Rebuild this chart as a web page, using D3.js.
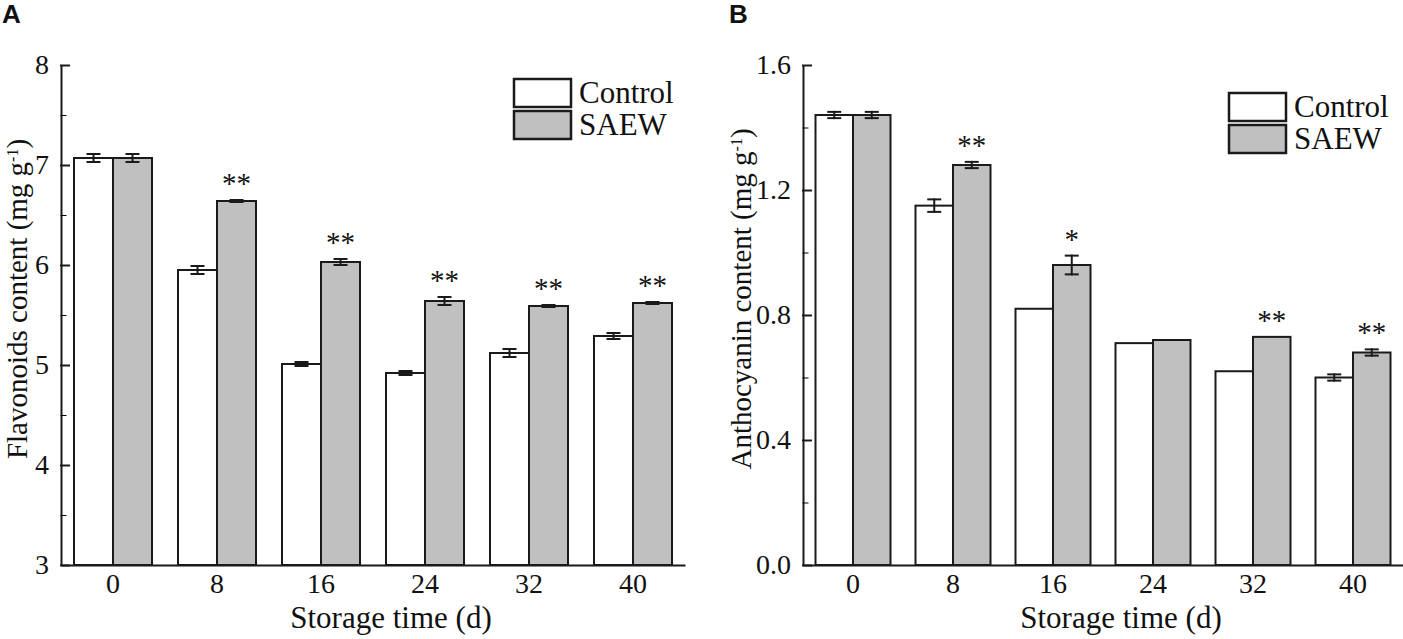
<!DOCTYPE html>
<html>
<head>
<meta charset="utf-8">
<script src="https://cdn.jsdelivr.net/npm/d3@7"></script>
<style>
  body { margin: 0; background: #fff; }
  text { font-family: "Liberation Serif", "Times New Roman", serif; fill: #111; }
</style>
</head>
<body>
<div id="chart"></div>
<script>
// Storage days (x categories)
var days = ["0", "8", "16", "24", "32", "40"];

// Panel A - flavonoids (mg g-1)
var flavControl = [7.07, 5.95, 5.01, 4.92, 5.12, 5.29];
var flavControlErr = [0.04, 0.04, 0.02, 0.02, 0.04, 0.03];
var flavSaew = [7.07, 6.64, 6.03, 5.64, 5.59, 5.62];
var flavSaewErr = [0.04, 0.01, 0.03, 0.04, 0.01, 0.01];
var flavSig = ["", "**", "**", "**", "**", "**"];
var flavTicks = [3, 4, 5, 6, 7, 8];
var flavMinor = [3.5, 4.5, 5.5, 6.5, 7.5];

// Panel B - anthocyanin (mg g-1)
var anthoControl = [1.44, 1.15, 0.82, 0.71, 0.62, 0.60];
var anthoControlErr = [0.01, 0.02, 0, 0, 0, 0.01];
var anthoSaew = [1.44, 1.28, 0.96, 0.72, 0.73, 0.68];
var anthoSaewErr = [0.01, 0.01, 0.03, 0, 0, 0.01];
var anthoSig = ["", "**", "*", "", "**", "**"];
var anthoTicks = [0, 0.4, 0.8, 1.2, 1.6];
var anthoMinor = [0.2, 0.6, 1.0, 1.4];

var seriesNames = ["Control", "SAEW"];
var seriesFill = ["#ffffff", "#c0c0c0"];
var stroke = "#1a1a1a";

var svgWidth = 1403;
var svgHeight = 639;

var svg = d3.select("#chart")
  .append("svg")
  .attr("width", svgWidth)
  .attr("height", svgHeight);

function drawPanel(p) {
  var g = svg.append("g");

  // x: one band per day, split in two for the series
  var xScale = d3.scaleBand()
    .domain(days)
    .range([p.left, p.right])
    .paddingInner(0.25)
    .paddingOuter(0.125);

  var xSub = d3.scaleBand()
    .domain(seriesNames)
    .range([0, xScale.bandwidth()]);

  var yScale = d3.scaleLinear()
    .domain(p.domain)
    .range([565, 65]);

  // bars
  var rows = [];
  days.forEach(function(d, i) {
    rows.push({ day: d, s: 0, v: p.control[i], e: p.controlErr[i] });
    rows.push({ day: d, s: 1, v: p.saew[i], e: p.saewErr[i], sig: p.sig[i] });
  });

  g.selectAll("rect.bar")
    .data(rows)
    .enter()
    .append("rect")
    .attr("class", "bar")
    .attr("x", d => xScale(d.day) + xSub(seriesNames[d.s]))
    .attr("y", d => yScale(d.v))
    .attr("width", xSub.bandwidth())
    .attr("height", d => yScale(p.domain[0]) - yScale(d.v))
    .attr("fill", d => seriesFill[d.s])
    .attr("stroke", stroke)
    .attr("stroke-width", 2);

  // error bars (only where there is an error)
  var errRows = rows.filter(d => d.e > 0);
  var cx = d => xScale(d.day) + xSub(seriesNames[d.s]) + xSub.bandwidth() / 2;

  g.selectAll("line.err")
    .data(errRows)
    .enter()
    .append("line")
    .attr("x1", cx).attr("x2", cx)
    .attr("y1", d => yScale(d.v - d.e))
    .attr("y2", d => yScale(d.v + d.e))
    .attr("stroke", stroke)
    .attr("stroke-width", 2);

  [-1, 1].forEach(function(sgn) {
    g.selectAll("line.cap" + sgn)
      .data(errRows)
      .enter()
      .append("line")
      .attr("x1", d => cx(d) - 6).attr("x2", d => cx(d) + 6)
      .attr("y1", d => yScale(d.v + sgn * d.e))
      .attr("y2", d => yScale(d.v + sgn * d.e))
      .attr("stroke", stroke)
      .attr("stroke-width", 2);
  });

  // significance stars above SAEW bars
  g.selectAll("text.sig")
    .data(rows.filter(d => d.sig))
    .enter()
    .append("text")
    .attr("x", cx)
    .attr("y", d => yScale(d.v + d.e) - 7)
    .attr("text-anchor", "middle")
    .style("font-size", "29px")
    .text(d => d.sig);

  // axes, ticks pointing inward
  var leftAxis = d3.axisLeft(yScale)
    .tickValues(p.ticks)
    .tickFormat(p.format)
    .tickSizeInner(-8)
    .tickSizeOuter(0)
    .tickPadding(12);

  var minorAxis = d3.axisLeft(yScale)
    .tickValues(p.minor)
    .tickFormat("")
    .tickSizeInner(-5)
    .tickSizeOuter(0);

  var bottomAxis = d3.axisBottom(xScale)
    .tickSize(0)
    .tickPadding(8);

  var yG = g.append("g")
    .attr("transform", `translate(${p.left}, 0)`)
    .call(leftAxis);
  g.append("g")
    .attr("transform", `translate(${p.left}, 0)`)
    .call(minorAxis)
    .select(".domain").remove();
  var xG = g.append("g")
    .attr("transform", `translate(0, 565)`)
    .call(bottomAxis);

  [yG, xG].forEach(function(a) {
    a.selectAll("path, line").attr("stroke", stroke).attr("stroke-width", 2);
    a.selectAll("text")
      .attr("fill", "#111")
      .style("font-family", "Liberation Serif")
      .style("font-size", "28px");
  });
  g.selectAll("line").attr("stroke-linecap", "square");

  // axis titles
  var yt = g.append("text")
    .attr("transform", `translate(${p.yTitleX}, 299) rotate(-90)`)
    .attr("text-anchor", "middle")
    .style("font-size", "29px");
  yt.append("tspan").text(p.yTitle + " (mg g");
  yt.append("tspan").attr("dy", -9).style("font-size", "16px").text("-1");
  yt.append("tspan").attr("dy", 9).text(")");

  g.append("text")
    .attr("x", (p.left + p.right) / 2 + 18)
    .attr("y", 628)
    .attr("text-anchor", "middle")
    .style("font-size", "31px")
    .text("Storage time (d)");

  // panel letter
  g.append("text")
    .attr("x", p.letterX)
    .attr("y", 23)
    .style("font-family", "Liberation Sans")
    .style("font-weight", "bold")
    .style("font-size", "26px")
    .text(p.letter);

  // legend
  seriesNames.forEach(function(name, i) {
    var top = p.legY + i * 32;
    g.append("rect")
      .attr("x", p.legX)
      .attr("y", top)
      .attr("width", 57)
      .attr("height", 28)
      .attr("fill", seriesFill[i])
      .attr("stroke", stroke)
      .attr("stroke-width", 2.5);
    g.append("text")
      .attr("x", p.legX + 65)
      .attr("y", top + 24)
      .style("font-size", "31px")
      .text(name);
  });
}

drawPanel({
  left: 61, right: 685, domain: [3, 8],
  control: flavControl, controlErr: flavControlErr,
  saew: flavSaew, saewErr: flavSaewErr, sig: flavSig,
  ticks: flavTicks, minor: flavMinor, format: d3.format("d"),
  yTitle: "Flavonoids content", yTitleX: 27,
  letter: "A", letterX: 2, legX: 514, legY: 79
});

drawPanel({
  left: 803, right: 1403, domain: [0, 1.6],
  control: anthoControl, controlErr: anthoControlErr,
  saew: anthoSaew, saewErr: anthoSaewErr, sig: anthoSig,
  ticks: anthoTicks, minor: anthoMinor, format: d3.format(".1f"),
  yTitle: "Anthocyanin content", yTitleX: 751,
  letter: "B", letterX: 729, legX: 1229, legY: 93
});
</script>
</body>
</html>
